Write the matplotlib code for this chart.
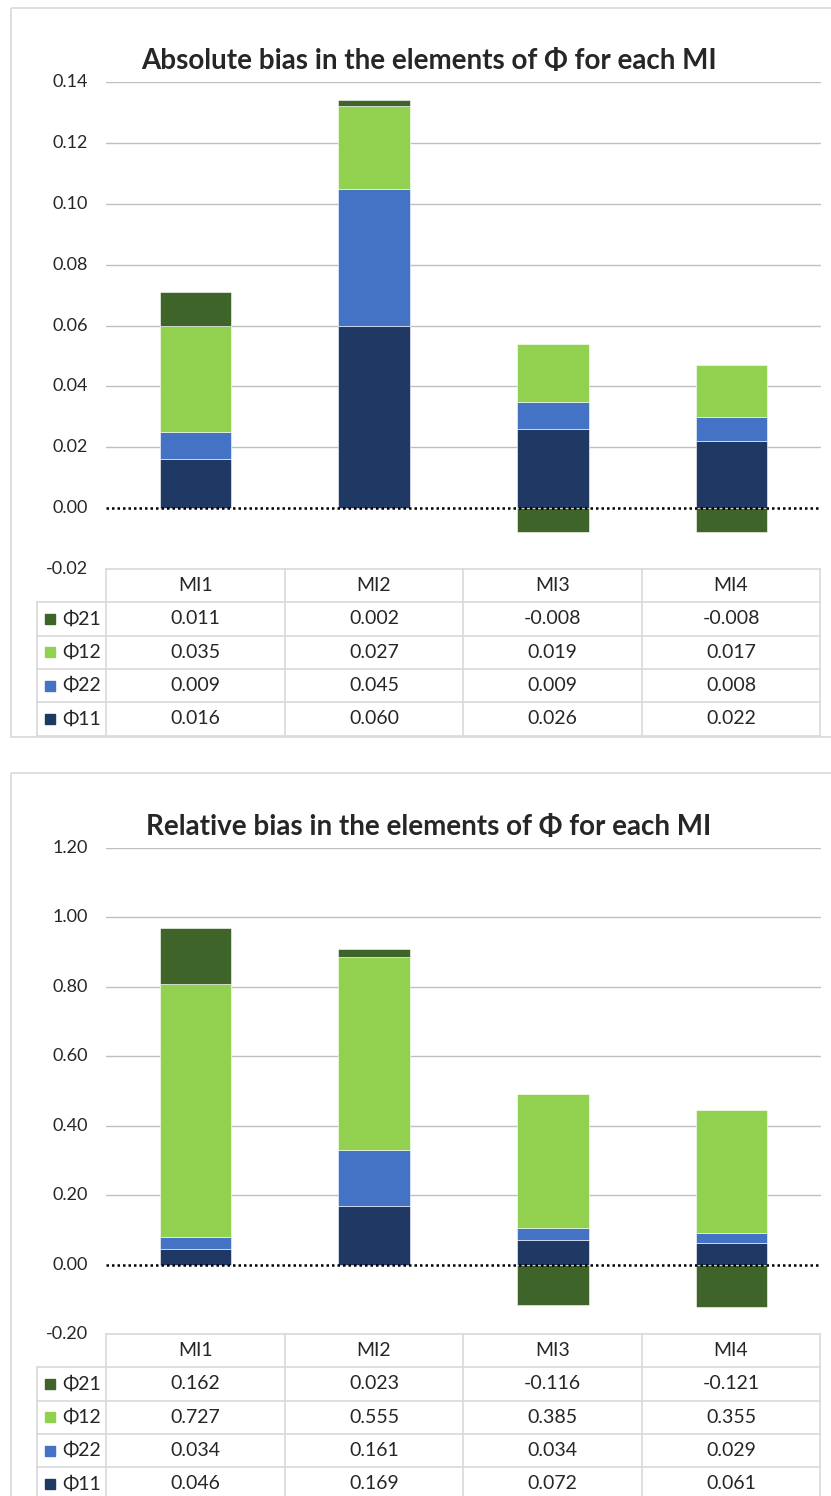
import numpy as np
import matplotlib
matplotlib.use("Agg")
import matplotlib.pyplot as plt
from matplotlib.patches import Rectangle

# ---- data ----
CATEGORIES = ["MI1", "MI2", "MI3", "MI4"]
SERIES = ["Φ11", "Φ22", "Φ12", "Φ21"]          # stacking order, bottom -> top
COLORS = ["#203864", "#4472C4", "#92D050", "#3F6429"]

ABS_PHI11 = [0.016, 0.060, 0.026, 0.022]
ABS_PHI22 = [0.009, 0.045, 0.009, 0.008]
ABS_PHI12 = [0.035, 0.027, 0.019, 0.017]
ABS_PHI21 = [0.011, 0.002, -0.008, -0.008]

REL_PHI11 = [0.046, 0.169, 0.072, 0.061]
REL_PHI22 = [0.034, 0.161, 0.034, 0.029]
REL_PHI12 = [0.727, 0.555, 0.385, 0.355]
REL_PHI21 = [0.162, 0.023, -0.116, -0.121]

ABS_TITLE = "Absolute bias in the elements of Φ for each MI"
REL_TITLE = "Relative bias in the elements of Φ for each MI"
ABS_TICKS = [-0.02, 0.00, 0.02, 0.04, 0.06, 0.08, 0.10, 0.12, 0.14]
REL_TICKS = [-0.20, 0.00, 0.20, 0.40, 0.60, 0.80, 1.00, 1.20]

W, H = 831, 1496
FONT = ["Lato", "Noto Sans", "DejaVu Sans"]
GRID = "#BFBFBF"
TBL = "#D9D9D9"
TXT = "#262626"

fig = plt.figure(figsize=(W / 100, H / 100), dpi=100)
fig.patch.set_facecolor("white")

# overlay in pixel coordinates for frames / tables
ov = fig.add_axes([0, 0, 1, 1], zorder=0)
ov.set_xlim(0, W)
ov.set_ylim(H, 0)
ov.axis("off")


def px_axes(x0, y0, x1, y1):
    # pixel box (top-left origin) -> figure fraction
    return [x0 / W, 1 - y1 / H, (x1 - x0) / W, (y1 - y0) / H]


def draw_chart(top, y_top, y_bot, ticks, series_vals, title):
    x0, x1 = 106, 821
    ax = fig.add_axes(px_axes(x0, y_top, x1, y_bot), zorder=2)
    ax.patch.set_alpha(0)
    n = len(CATEGORIES)
    xs = np.arange(n)
    pos = np.zeros(n)
    neg = np.zeros(n)
    for vals, col in zip(series_vals, COLORS):
        v = np.array(vals)
        bottom = np.where(v >= 0, pos, neg)
        ax.bar(xs, v, 0.4, bottom=bottom, color=col, edgecolor="white",
               linewidth=0.4, zorder=3)
        pos = pos + np.where(v >= 0, v, 0)
        neg = neg + np.where(v < 0, v, 0)
    ax.set_xlim(-0.5, n - 0.5)
    ax.set_ylim(ticks[0], ticks[-1])
    for t in ticks[1:]:
        if abs(t) < 1e-9:
            continue
        ax.axhline(t, color=GRID, lw=1.0, zorder=1)
    ax.axhline(0, color="black", lw=1.8, ls=(0, (1, 1.2)), zorder=4)
    for s in ax.spines.values():
        s.set_visible(False)
    ax.set_xticks([])
    ax.set_yticks([])
    # tick labels
    span = ticks[-1] - ticks[0]
    for t in ticks:
        yp = y_bot - (t - ticks[0]) / span * (y_bot - y_top)
        ov.text(88, yp, f"{t:.2f}", ha="right", va="center", fontsize=13,
                color=TXT, family=FONT)
    # title
    ov.text(429, y_top - 21, title, ha="center", va="center", fontsize=20,
            fontweight="bold", color=TXT, family=FONT)

    # frame
    ov.add_patch(Rectangle((11, top), W, 729 if top < 100 else 740,
                           fill=False, edgecolor=TBL, lw=1.2))

    # data table
    cols = [106, 285, 463, 642, 820]
    rh = 33.3
    hy = y_bot
    rows = list(zip(SERIES, COLORS, series_vals))[::-1]
    ov.plot([cols[0], cols[-1]], [hy, hy], color=TBL, lw=1.2)
    for i in range(len(rows) + 1):
        yy = hy + rh * (i + 1)
        ov.plot([37, cols[-1]], [yy, yy], color=TBL, lw=1.2)
    yb = hy + rh * (len(rows) + 1)
    for c in cols:
        ov.plot([c, c], [hy, yb], color=TBL, lw=1.2)
    ov.plot([37, 37], [hy + rh, yb], color=TBL, lw=1.2)
    for j, cat in enumerate(CATEGORIES):
        cx = (cols[j] + cols[j + 1]) / 2
        ov.text(cx, hy + rh / 2, cat, ha="center", va="center", fontsize=14,
                color=TXT, family=FONT)
    for i, (name, col, vals) in enumerate(rows):
        cy = hy + rh * (i + 1.5)
        ov.add_patch(Rectangle((45, cy - 5), 10, 10, color=col))
        ov.text(62, cy, name, ha="left", va="center", fontsize=14,
                color=TXT, family=FONT)
        for j, v in enumerate(vals):
            cx = (cols[j] + cols[j + 1]) / 2
            ov.text(cx, cy, f"{v:.3f}", ha="center", va="center",
                    fontsize=14, color=TXT, family=FONT)
    return ax


draw_chart(8, 82, 569, ABS_TICKS,
           [ABS_PHI11, ABS_PHI22, ABS_PHI12, ABS_PHI21], ABS_TITLE)
draw_chart(773, 848, 1334, REL_TICKS,
           [REL_PHI11, REL_PHI22, REL_PHI12, REL_PHI21], REL_TITLE)

fig.savefig("out.png", dpi=100, facecolor="white")
